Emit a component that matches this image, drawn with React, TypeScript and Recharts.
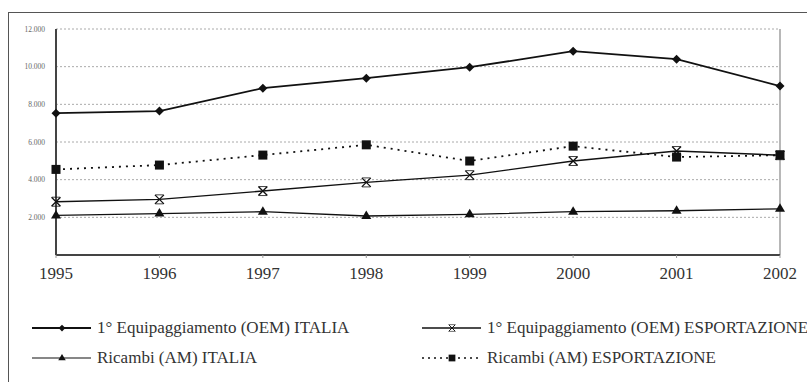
import React from 'react';
import { LineChart, Line, XAxis, YAxis, CartesianGrid, ReferenceLine } from 'recharts';

// values (thousands shown with a dot)
const years = ['1995', '1996', '1997', '1998', '1999', '2000', '2001', '2002'];
const oemItalia = [7530, 7640, 8860, 9390, 9970, 10820, 10400, 8970];
const oemExport = [2830, 2955, 3395, 3855, 4240, 4990, 5520, 5300];
const amItalia = [2100, 2200, 2300, 2070, 2160, 2300, 2350, 2450];
const amExport = [4545, 4775, 5305, 5850, 4990, 5780, 5200, 5300];
const yTicks = [0, 2000, 4000, 6000, 8000, 10000, 12000];

const INK = '#111';
const SERIF = '"Liberation Serif", "DejaVu Serif", serif';

const data = years.map((y, i) => ({
  year: y,
  oemItalia: oemItalia[i],
  oemExport: oemExport[i],
  amItalia: amItalia[i],
  amExport: amExport[i],
}));

function fmtThousands(v: number): string {
  if (v === 0) return '';
  return String(v).replace(/(\d)(?=(\d{3})+$)/g, '$1.');
}

type DotProps = { cx?: number; cy?: number; index?: number };

const Diamond = ({ cx = 0, cy = 0 }: DotProps) => (
  <path d={`M${cx},${cy - 4.5}L${cx + 4.5},${cy}L${cx},${cy + 4.5}L${cx - 4.5},${cy}Z`} fill={INK} />
);
const Cross = ({ cx = 0, cy = 0 }: DotProps) => (
  <g stroke={INK} strokeWidth={1.3} fill="none">
    <path d={`M${cx - 4.5},${cy - 4.5}L${cx + 4.5},${cy + 4.5}M${cx + 4.5},${cy - 4.5}L${cx - 4.5},${cy + 4.5}`} />
    <path d={`M${cx - 4},${cy - 4.5}L${cx + 4},${cy - 4.5}M${cx - 4},${cy + 4.5}L${cx + 4},${cy + 4.5}`} strokeWidth={0.8} />
  </g>
);
const Triangle = ({ cx = 0, cy = 0 }: DotProps) => (
  <path d={`M${cx},${cy - 5.5}L${cx + 5},${cy + 3}L${cx - 5},${cy + 3}Z`} fill={INK} />
);
const Square = ({ cx = 0, cy = 0 }: DotProps) => (
  <rect x={cx - 4.5} y={cy - 4.5} width={9} height={9} fill={INK} />
);

const legendItems = [
  { label: '1° Equipaggiamento (OEM) ITALIA', Icon: Diamond, dash: undefined, w: 1.8, x: 32, y: 328 },
  { label: '1° Equipaggiamento (OEM) ESPORTAZIONE', Icon: Cross, dash: undefined, w: 1.4, x: 422, y: 328 },
  { label: 'Ricambi (AM) ITALIA', Icon: Triangle, dash: undefined, w: 1.1, x: 32, y: 358 },
  { label: 'Ricambi (AM) ESPORTAZIONE', Icon: Square, dash: '2 4', w: 1.5, x: 422, y: 358 },
];

function LegendBlock() {
  return (
    <>
      {legendItems.map((it) => (
        <div
          key={it.label}
          style={{
            position: 'absolute',
            left: it.x,
            top: it.y - 10,
            height: 20,
            display: 'flex',
            alignItems: 'center',
            whiteSpace: 'nowrap',
            fontFamily: SERIF,
            fontSize: 17,
            color: '#333',
          }}
        >
          <svg width={60} height={20} style={{ marginRight: 5 }}>
            <line x1={0} y1={10} x2={59} y2={10} stroke={INK} strokeWidth={it.w} strokeDasharray={it.dash} />
            <g transform="translate(30,10) scale(0.75) translate(-30,-10)">
              <it.Icon cx={30} cy={10} />
            </g>
          </svg>
          <span>{it.label}</span>
        </div>
      ))}
    </>
  );
}

export default function App() {
  return (
    <div style={{ position: 'fixed', left: 0, top: 0, width: 807, height: 382, background: '#fff', overflow: 'hidden' }}>
      {/* scanned page frame */}
      <div
        style={{
          position: 'absolute',
          left: 8,
          top: 12,
          width: 820,
          height: 400,
          borderLeft: '1.5px solid #555',
          borderTop: '1.5px solid #555',
        }}
      />
      <div style={{ position: 'absolute', left: 0, top: 0 }}>
        <LineChart
          width={807}
          height={300}
          data={data}
          margin={{ top: 29, right: 27, left: 8, bottom: 15 }}
        >
          <CartesianGrid horizontal vertical={false} stroke="#aaa" strokeDasharray="2 2" />
          <ReferenceLine x="2002" stroke="#888" strokeWidth={1.2} />
          <XAxis
            dataKey="year"
            height={30}
            axisLine={{ stroke: '#444', strokeWidth: 2 }}
            tickLine={{ stroke: '#999' }}
            tickSize={3}
            tickMargin={9}
            tick={{ fontFamily: SERIF, fontSize: 17, fill: '#333' }}
            interval={0}
          />
          <YAxis
            width={48}
            domain={[0, 12000]}
            ticks={yTicks}
            interval={0}
            axisLine={{ stroke: '#444', strokeWidth: 2 }}
            tickLine={false}
            tickSize={6}
            tickMargin={5}
            tickFormatter={fmtThousands}
            tick={{ fontFamily: SERIF, fontSize: 7.5, fill: '#666' }}
          />
          <Line
            dataKey="amItalia"
            stroke={INK}
            strokeWidth={1.3}
            dot={<Triangle />}
            isAnimationActive={false}
          />
          <Line
            dataKey="oemExport"
            stroke={INK}
            strokeWidth={1.4}
            dot={<Cross />}
            isAnimationActive={false}
          />
          <Line
            dataKey="amExport"
            stroke={INK}
            strokeWidth={1.8}
            strokeDasharray="2 5"
            dot={<Square />}
            isAnimationActive={false}
          />
          <Line
            dataKey="oemItalia"
            stroke={INK}
            strokeWidth={1.8}
            dot={<Diamond />}
            isAnimationActive={false}
          />
        </LineChart>
      </div>
      <LegendBlock />
    </div>
  );
}
